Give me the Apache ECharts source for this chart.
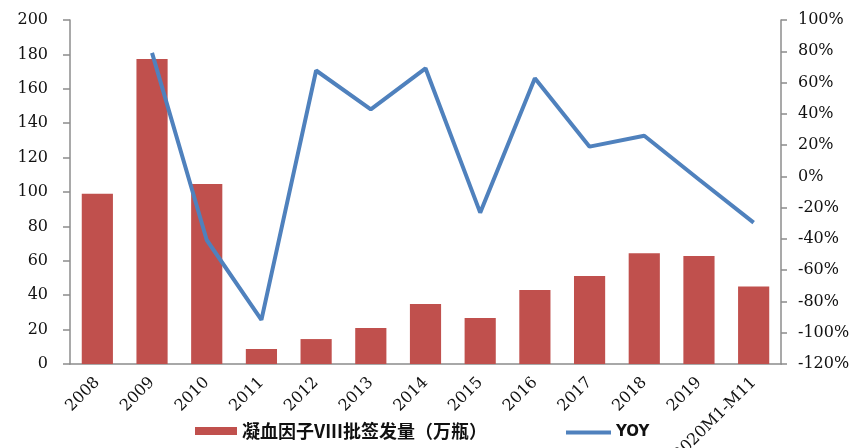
<!DOCTYPE html>
<html>
<head>
<meta charset="utf-8">
<script src="https://cdn.jsdelivr.net/npm/echarts@6/dist/echarts.min.js"></script>
<style>html,body{margin:0;padding:0;background:#fff;}#c{width:856px;height:448px;}</style>
</head>
<body>
<div id="c"></div>
<script>
const categories = ['2008','2009','2010','2011','2012','2013','2014','2015','2016','2017','2018','2019','2020M1-M11'];
const batchValues = [99, 177.3, 104.7, 8.7, 14.5, 20.9, 34.9, 26.7, 43, 51.2, 64.4, 62.8, 45];
const yoyValues = [null, 79, -40.7, -91.8, 67.7, 42.9, 69.1, -23.2, 62.7, 19, 26, -2, -29.6];
const leftTicks = {min: 0, max: 200, interval: 20};
const rightTicks = {min: -120, max: 100, interval: 20};
const barName = '凝血因子VIII批签发量（万瓶）';
const lineName = 'YOY';

const serif = 'DejaVu Serif';
const chart = echarts.init(document.getElementById('c'));
chart.setOption({
  animation: false,
  backgroundColor: '#fff',
  grid: {left: 70, right: 75, top: 20, bottom: 84, containLabel: false, outerBoundsMode: 'none'},
  legend: [
    {
      left: 190, top: 417,
      itemWidth: 42, itemHeight: 8,
      textStyle: {fontFamily: 'Noto Sans CJK SC', fontWeight: 'bold', fontSize: 18, color: '#111'},
      data: [{name: barName, icon: 'rect'}]
    },
    {
      left: 561, top: 420,
      itemWidth: 45, itemHeight: 4,
      textStyle: {fontFamily: 'DejaVu Sans', fontWeight: 'bold', fontSize: 15, color: '#111'},
      data: [{name: lineName, icon: 'rect'}]
    }
  ],
  xAxis: {
    type: 'category',
    data: categories,
    axisLine: {lineStyle: {color: '#8c8c8c', width: 1.5}},
    axisTick: {show: false},
    axisLabel: {rotate: 45, margin: 16, fontFamily: serif, fontSize: 16, color: '#111', interval: 0}
  },
  yAxis: [
    {
      type: 'value', min: leftTicks.min, max: leftTicks.max, interval: leftTicks.interval,
      axisLine: {show: true, lineStyle: {color: '#8c8c8c', width: 1.5}},
      axisTick: {show: true, length: 7, lineStyle: {color: '#8c8c8c', width: 1.5}},
      splitLine: {show: false},
      axisLabel: {margin: 22, fontFamily: serif, fontSize: 16, color: '#111'}
    },
    {
      type: 'value', min: rightTicks.min, max: rightTicks.max, interval: rightTicks.interval,
      position: 'right',
      axisLine: {show: true, lineStyle: {color: '#8c8c8c', width: 1.5}},
      axisTick: {show: true, length: 6, lineStyle: {color: '#8c8c8c', width: 1.5}},
      splitLine: {show: false},
      axisLabel: {margin: 17, fontFamily: serif, fontSize: 16, color: '#111', formatter: v => v + '%'}
    }
  ],
  series: [
    {
      name: barName, type: 'bar', data: batchValues, yAxisIndex: 0,
      barWidth: '57%',
      itemStyle: {color: '#C0504D'}
    },
    {
      name: lineName, type: 'line', data: yoyValues, yAxisIndex: 1,
      symbol: 'none', connectNulls: false,
      lineStyle: {color: '#4F81BD', width: 4},
      itemStyle: {color: '#4F81BD'}
    }
  ]
});
</script>
</body>
</html>
